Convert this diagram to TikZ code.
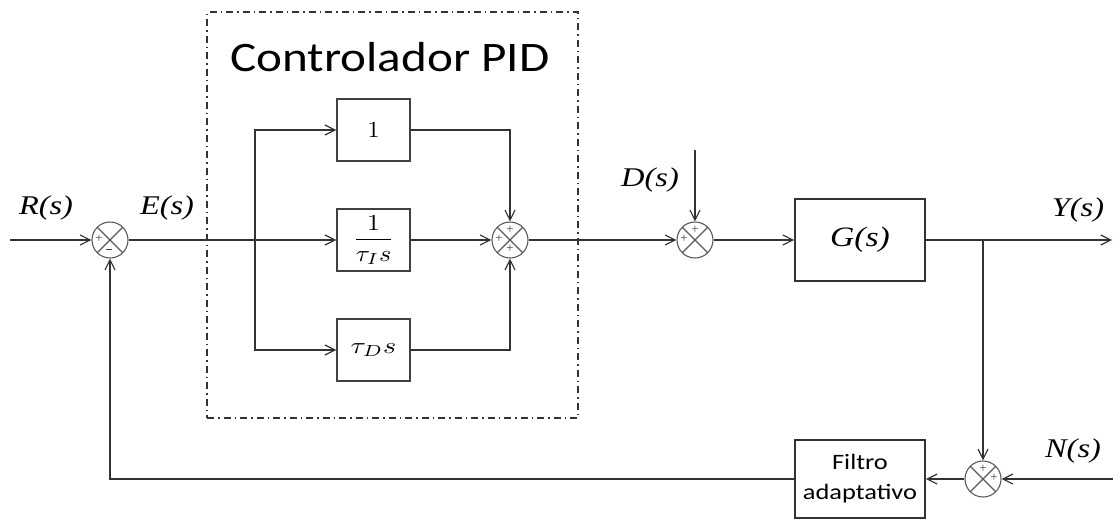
\documentclass[tikz,border=0pt]{standalone}
\usepackage{amsmath}
\usepackage{fontspec}
\setmainfont{Liberation Serif}
\newfontfamily\carl{Carlito}
\usetikzlibrary{arrows.meta,calc}
\begin{document}
\begin{tikzpicture}[x=1pt,y=-1pt,
  line/.style={draw=black!80, line width=1.8pt},
  arr/.style={line, -{Straight Barb[length=10pt,width=10pt,line width=1.2pt]}},
  blk/.style={draw=black!75, line width=1.4pt, minimum width=73pt, minimum height=62pt, inner sep=0pt},
  bigblk/.style={draw=black!80, line width=1.6pt, minimum width=130pt, inner sep=0pt},
  sumj/.style={circle, draw=black!65, line width=1.1pt, minimum size=36pt, inner sep=0pt,
    path picture={\draw[black!65,line width=1.1pt]
      (path picture bounding box.north west) -- (path picture bounding box.south east)
      (path picture bounding box.north east) -- (path picture bounding box.south west);}},
  sgn/.style={font=\fontsize{13}{13}\selectfont, inner sep=0pt, text=black!75},
  sig/.style={font=\fontsize{27}{27}\selectfont\itshape, inner sep=0pt}]
\useasboundingbox (0,0) rectangle (1113,520);
% PID frame
\node[draw=black!80, line width=1.6pt, dash pattern=on 7pt off 4pt on 1.5pt off 4pt,
  minimum width=371pt, minimum height=406pt, inner sep=0pt] (pid) at (392.5,215) {};
\node[font=\carl\fontsize{42}{42}\selectfont, inner sep=0pt] (title) at (390,57) {\scalebox{1.17}[1]{Controlador PID}};
% junctions
\node[sumj] (s1) at (110,240) {};
\node[sumj] (s2) at (510,240) {};
\node[sumj] (s3) at (695,240) {};
\node[sumj] (s4) at (983,479) {};
% signs
\node[sgn] (s1a) at ($(s1)+(-11,-1)$) {+};
\node[sgn] (s1b) at ($(s1)+(-1,9)$) {\rule{6pt}{1pt}};
\node[sgn] (s2a) at ($(s2)+(0,-10)$) {+};
\node[sgn] (s2b) at ($(s2)+(-11,-1)$) {+};
\node[sgn] (s2c) at ($(s2)+(0,9)$) {+};
\node[sgn] (s3a) at ($(s3)+(0,-10)$) {+};
\node[sgn] (s3b) at ($(s3)+(-11,-1)$) {+};
\node[sgn] (s4a) at ($(s4)+(0,-10)$) {+};
\node[sgn] (s4b) at ($(s4)+(11,-1)$) {+};
% blocks
\node[blk] (b1) at (373.5,130) {\scalebox{2.4}[2.3]{$1$}};
\node[blk] (b2) at (373.5,240) {\scalebox{2.6}[2.3]{$\dfrac{1}{\tau_I s}$}};
\node[blk] (b3) at (373.5,350) {\scalebox{2.8}[2.3]{$\tau_D s$}};
\node[bigblk, minimum height=82pt] (G) at (860,240) {\fontsize{28}{28}\selectfont\itshape\scalebox{1.2}[1]{G(s)}};
\node[bigblk, minimum height=78pt, align=center, font=\carl\fontsize{22}{30}\selectfont] (F) at (860,479) {\scalebox{1.2}[1]{Filtro}\\\scalebox{1.2}[1]{adaptativo}};
% labels
\node[sig] (R) at (46,208) {\scalebox{1.2}[1]{R(s)}};
\node[sig] (E) at (167,208) {\scalebox{1.2}[1]{E(s)}};
\node[sig] (D) at (650,180) {\scalebox{1.2}[1]{D(s)}};
\node[sig] (Y) at (1078,210) {\scalebox{1.2}[1]{Y(s)}};
\node[sig] (N) at (1073,451) {\scalebox{1.2}[1]{N(s)}};
% coordinates
\coordinate (in) at (10,240);
\coordinate (br) at (255,240);
\coordinate (dtop) at (695,150);
\coordinate (out) at (1112,240);
\coordinate (yb) at (983,240);
\coordinate (nin) at (1113,479);
% connectors
\draw[arr] (in) -- (s1);
\draw[line] (s1) -- (br);
\draw[arr] (br) |- (b1.west);
\draw[arr] (br) -- (b2.west);
\draw[arr] (br) |- (b3.west);
\draw[arr] (b1.east) -| (s2.north);
\draw[arr] (b2.east) -- (s2.west);
\draw[arr] (b3.east) -| (s2.south);
\draw[arr] (s2.east) -- (s3.west);
\draw[arr] (dtop) -- (s3.north);
\draw[arr] (s3.east) -- (G.west);
\draw[arr] (G.east) -- (out);
\draw[arr] (yb) -- (s4.north);
\draw[arr] (nin) -- (s4.east);
\draw[arr] (s4.west) -- (F.east);
\draw[arr] (F.west) -| (s1.south);
\end{tikzpicture}
\end{document}
